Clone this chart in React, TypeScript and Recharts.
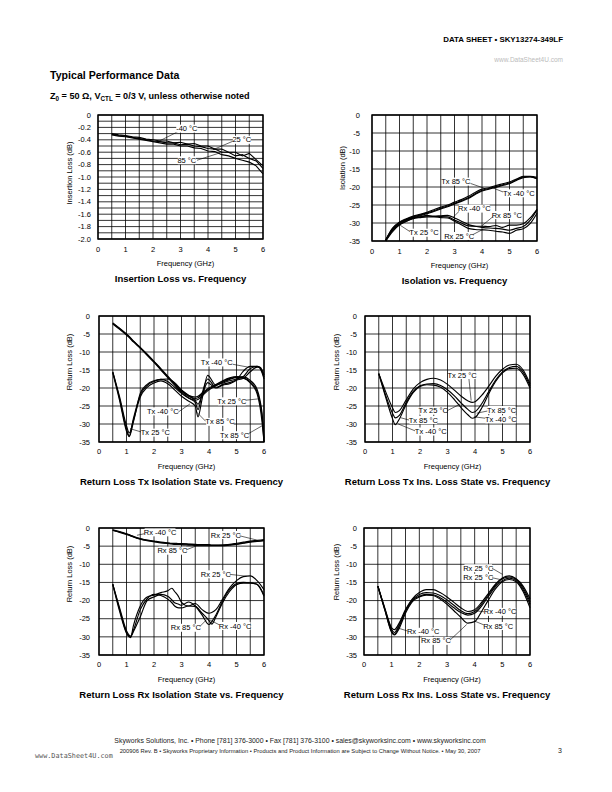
import React from "react";
import {
  LineChart,
  Line,
  XAxis,
  YAxis,
  CartesianGrid,
  ReferenceArea,
  ReferenceLine,
  ReferenceDot,
} from "recharts";

const FONT = "'Liberation Sans', Arial, Helvetica, sans-serif";

// shared axes
const freqTicks = [0, 0.5, 1, 1.5, 2, 2.5, 3, 3.5, 4, 4.5, 5, 5.5, 6];
const dbTicks = [0, -5, -10, -15, -20, -25, -30, -35];
const ilTicks = [
  0, -0.1, -0.2, -0.3, -0.4, -0.5, -0.6, -0.7, -0.8, -0.9, -1.0, -1.1, -1.2,
  -1.3, -1.4, -1.5, -1.6, -1.7, -1.8, -1.9, -2.0,
];

// Insertion loss vs frequency
const ilFreq = [
  0.5, 0.75, 1, 1.25, 1.5, 1.75, 2, 2.25, 2.5, 2.75, 3, 3.25, 3.5, 3.75, 4,
  4.25, 4.5, 4.75, 5, 5.25, 5.5, 5.75, 6,
];
const ilM40 = [
  -0.3, -0.32, -0.33, -0.35, -0.36, -0.39, -0.4, -0.42, -0.42, -0.45, -0.44,
  -0.47, -0.46, -0.5, -0.5, -0.55, -0.55, -0.6, -0.6, -0.66, -0.62, -0.72,
  -0.82,
];
const il25 = [
  -0.31, -0.33, -0.34, -0.36, -0.38, -0.4, -0.42, -0.43, -0.45, -0.45, -0.48,
  -0.47, -0.5, -0.51, -0.54, -0.55, -0.6, -0.6, -0.66, -0.64, -0.7, -0.74,
  -0.86,
];
const il85 = [
  -0.32, -0.34, -0.35, -0.37, -0.39, -0.41, -0.43, -0.45, -0.47, -0.47, -0.5,
  -0.5, -0.53, -0.54, -0.58, -0.59, -0.64, -0.66, -0.7, -0.73, -0.76, -0.82,
  -0.95,
];

// Isolation vs frequency
const isoFreq = ilFreq;
const isoTx85 = [
  -34.8, -31.8, -30.0, -29.0, -28.3, -27.8, -27.2, -26.6, -25.9, -25.3, -24.5,
  -23.8, -23.0, -21.9, -20.9, -20.4, -19.9, -19.4, -18.9, -18.0, -17.2, -17.1,
  -17.6,
];
const isoTxM40 = [
  -34.6, -31.4, -29.7, -28.8, -28.1, -27.6, -27.0, -26.3, -25.6, -25.0, -24.2,
  -23.5, -22.6, -21.5, -20.6, -20.2, -19.6, -19.1, -18.6, -17.8, -17.0, -17.0,
  -17.3,
];
const isoTx25 = [
  -35.0, -32.4, -30.5, -29.5, -28.6, -28.0, -27.4, -26.8, -26.1, -25.5, -24.7,
  -24.0, -23.2, -22.1, -21.1, -20.6, -20.1, -19.6, -19.1, -18.2, -17.4, -17.2,
  -17.7,
];
const isoRxM40 = [
  -34.8, -31.5, -30.0, -29.0, -28.5, -28.3, -28.0, -28.1, -28.0, -27.9, -28.6,
  -29.5, -30.4, -30.9, -31.2, -31.4, -31.5, -31.7, -32.0, -31.5, -31.0, -29.3,
  -26.3,
];
const isoRx85 = [
  -34.9, -31.8, -30.3, -29.2, -28.6, -28.3, -27.9, -28.2, -28.2, -28.3, -29.2,
  -30.0, -30.8, -30.9, -30.9, -31.0, -30.7, -31.2, -30.6, -30.6, -30.2, -28.6,
  -26.2,
];
const isoRx25 = [
  -35.0, -32.0, -30.5, -29.5, -28.8, -28.5, -28.3, -28.3, -28.5, -28.6, -29.5,
  -30.5, -31.5, -31.8, -31.9, -32.0, -32.3, -32.5, -32.9, -32.0, -31.6, -30.2,
  -27.3,
];

// Return loss, Tx isolation state
const txIsoFreq = [
  0.5, 0.75, 1, 1.1, 1.25, 1.5, 1.75, 2, 2.25, 2.5, 2.75, 3, 3.25, 3.5, 3.6,
  3.75, 3.95, 4.25, 4.5, 4.75, 5, 5.25, 5.5, 5.75, 5.85, 5.93, 6,
];
const txIsoArc85 = [
  -2.0, -3.5, -5.1, -5.8, -7.0, -8.8, -10.7, -12.7, -14.8, -16.9, -19.0, -20.9,
  -22.3, -22.9, -22.7, -21.8, -20.5, -19.2, -18.2, -17.4, -17.0, -17.2, -18.3,
  -21.0, -24.0, -28.0, -35.0,
];
const txIsoArc25 = [
  -2.2, -3.7, -5.3, -6.0, -7.2, -9.0, -10.9, -12.9, -15.0, -17.1, -19.2, -21.2,
  -22.7, -23.4, -23.2, -22.2, -20.8, -19.4, -18.4, -17.6, -17.1, -17.3, -18.6,
  -21.6, -25.0, -29.5, -35.0,
];
const txIsoArcM40 = [
  -1.9, -3.4, -5.0, -5.7, -6.9, -8.7, -10.6, -12.6, -14.6, -16.7, -18.8, -20.7,
  -22.0, -22.5, -22.3, -21.4, -20.2, -19.0, -18.0, -17.2, -16.8, -16.9, -17.9,
  -20.4, -23.2, -27.0, -34.0,
];
const txIso25 = [
  -15.5, -23.0, -31.5, -33.3, -28.5, -22.0, -19.3, -18.2, -17.6, -18.2, -19.8,
  -21.5, -22.8, -24.0, -26.0, -21.5, -17.5, -19.8, -19.0, -18.5, -17.8, -17.3,
  -15.5, -14.2, -14.2, -15.0, -16.4,
];
const txIso85 = [
  -15.5, -22.5, -30.5, -32.5, -29.0, -22.5, -19.8, -18.6, -18.0, -18.8, -20.5,
  -22.3, -23.6, -25.0, -28.0, -23.0, -16.5, -19.2, -18.6, -18.0, -17.5, -16.8,
  -14.6, -14.0, -14.3, -15.4, -17.0,
];
const txIsoM40 = [
  -15.8, -23.5, -32.0, -33.5, -29.5, -21.5, -19.0, -18.0, -17.6, -17.5, -18.5,
  -20.5, -22.0, -23.5, -24.5, -22.0, -18.5, -20.0, -19.2, -18.8, -17.8, -15.3,
  -14.0, -14.0, -14.5, -15.8, -17.5,
];

// Return loss, Tx insertion loss state
const txInsFreq = [
  0.5, 0.75, 1, 1.1, 1.25, 1.5, 1.75, 2, 2.25, 2.5, 2.75, 3, 3.25, 3.5, 3.75,
  3.9, 4, 4.25, 4.5, 4.75, 5, 5.25, 5.5, 5.75, 6,
];
const txIns25 = [
  -16, -21, -25.5, -26.8, -26.3, -23.3, -20.3, -18.5, -17.6, -17.3, -17.8, -19.0,
  -20.6, -22.3, -23.6, -24.0, -23.8, -22.0, -19.5, -16.8, -14.8, -13.6, -13.4,
  -15.0, -18.8,
];
const txIns85 = [
  -16, -22, -27, -28.3, -27.6, -24, -21, -19.4, -18.9, -18.8, -19.3, -20.5,
  -22.2, -24.2, -26.0, -26.8, -26.6, -24.3, -21.0, -17.8, -15.5, -14.3, -14.0,
  -15.6, -19.4,
];
const txInsM40 = [
  -16, -22.5, -28.5, -30.2, -28.6, -24.5, -21.3, -19.6, -19.1, -19.2, -19.8,
  -21.2, -23.2, -25.5, -27.5, -28.4, -28.2, -25.5, -21.6, -18.2, -15.8, -14.6,
  -14.5, -16.2, -20.0,
];

// Return loss, Rx isolation state
const rxIsoFreq = [
  0.5, 0.75, 1, 1.15, 1.25, 1.5, 1.75, 2, 2.25, 2.5, 2.65, 2.75, 2.9, 3, 3.25,
  3.5, 3.75, 4, 4.1, 4.25, 4.5, 4.75, 5, 5.25, 5.5, 5.75, 6,
];
const rxIsoUpM40 = [
  -0.5, -1.0, -1.6, -2.0, -2.3, -2.9, -3.3, -3.6, -3.9, -4.1, -4.2, -4.2, -4.3,
  -4.3, -4.4, -4.5, -4.6, -4.6, -4.7, -4.7, -4.7, -4.6, -4.4, -4.1, -3.8, -3.6,
  -3.4,
];
const rxIsoUp25 = [
  -0.6, -1.1, -1.7, -2.1, -2.4, -3.0, -3.4, -3.7, -4.0, -4.2, -4.3, -4.3, -4.4,
  -4.4, -4.5, -4.6, -4.7, -4.7, -4.8, -4.8, -4.7, -4.5, -4.2, -3.9, -3.6, -3.4,
  -3.2,
];
const rxIsoUp85 = [
  -0.7, -1.2, -1.8, -2.2, -2.5, -3.1, -3.5, -3.8, -4.1, -4.3, -4.4, -4.5, -4.5,
  -4.6, -4.7, -4.8, -4.9, -4.9, -4.9, -4.9, -4.9, -4.7, -4.5, -4.2, -3.9, -3.7,
  -3.5,
];
const rxIsoM40 = [
  -15.5, -22.0, -28.3, -29.8, -28.2, -22.5, -19.5, -18.3, -18.6, -19.6, -20.6,
  -21.5, -22.0, -22.0, -21.5, -21.6, -23.5, -25.5, -26.5, -24.5, -20.5, -17.5,
  -15.6, -15.2, -15.2, -15.5, -18.5,
];
const rxIso25 = [
  -15.5, -23.0, -29.0, -30.2, -27.0, -21.5, -19.0, -18.5, -17.8, -17.3, -16.6,
  -17.5, -19.0, -20.5, -21.5, -20.8, -22.5, -23.5, -23.3, -22.5, -19.5, -16.5,
  -14.5, -13.4, -13.2, -14.5, -17.0,
];
const rxIso85 = [
  -15.5, -22.5, -28.8, -30.0, -28.6, -24.5, -20.0, -19.0, -18.3, -18.8, -19.8,
  -20.6, -21.0, -21.3, -20.4, -21.5, -24.0, -26.6, -25.8, -24.0, -20.0, -17.0,
  -15.3, -15.0, -15.1, -15.6, -18.8,
];

// Return loss, Rx insertion loss state
const rxInsFreq = [
  0.5, 0.75, 1, 1.1, 1.25, 1.5, 1.75, 2, 2.25, 2.5, 2.75, 3, 3.25, 3.5, 3.75, 4,
  4.25, 4.5, 4.75, 5, 5.25, 5.5, 5.75, 6,
];
const rxIns25a = [
  -16, -22, -27.5, -28, -26.5, -22.5, -19.5, -17.8, -17.0, -17.0, -17.8, -19.0,
  -20.5, -22.0, -23.0, -22.5, -20.5, -18.0, -15.5, -13.8, -13.2, -14.0, -16.0,
  -19.5,
];
const rxIns25b = [
  -16, -22.2, -28, -28.8, -27, -22.8, -19.8, -18.3, -17.8, -17.9, -18.6, -19.8,
  -21.3, -22.8, -23.6, -23.0, -21.0, -18.4, -15.8, -14.0, -13.5, -14.2, -16.5,
  -20.3,
];
const rxInsM40 = [
  -16, -22.5, -28.5, -29.3, -27.5, -23, -20, -18.8, -18.3, -18.4, -19.2, -20.5,
  -22, -23.3, -24, -23.5, -21.5, -18.8, -16.2, -14.5, -13.8, -14.5, -17, -21,
];
const rxIns85 = [
  -16, -22.5, -28.8, -29.5, -28, -23.5, -20.3, -19, -18.5, -18.6, -19.6, -21,
  -22.8, -24.6, -26.2, -25.8, -23, -19.8, -16.8, -14.8, -14.2, -14.8, -17.5, -22,
];

// callouts: text centre and leader line, in data units
type Note = { text: string; x: number; y: number; from: number[]; to: number[] };

const ilNotes: Note[] = [
  { text: "-40 °C", x: 3.23, y: -0.22, from: [2.95, -0.26], to: [2.18, -0.43] },
  { text: "25 °C", x: 5.23, y: -0.4, from: [4.92, -0.42], to: [4.18, -0.56] },
  { text: "85 °C", x: 3.23, y: -0.73, from: [3.6, -0.73], to: [4.44, -0.61] },
];
const isoNotes: Note[] = [
  { text: "Tx 85 °C", x: 3.05, y: -18.5, from: [3.58, -19.0], to: [4.1, -20.4] },
  { text: "Tx -40 °C", x: 5.34, y: -21.75, from: [4.77, -21.4], to: [4.35, -20.1] },
  { text: "Rx -40 °C", x: 3.72, y: -26.0, from: [3.2, -26.5], to: [2.95, -28.4] },
  { text: "Rx 85 °C", x: 4.9, y: -27.8, from: [4.42, -28.1], to: [3.99, -30.8] },
  { text: "Tx 25 °C", x: 1.89, y: -32.7, from: [1.38, -32.4], to: [1.02, -30.6] },
  { text: "Rx 25 °C", x: 3.17, y: -33.6, from: [3.65, -33.3], to: [4.05, -31.7] },
];
const txIsoNotes: Note[] = [
  { text: "Tx -40 °C", x: 4.28, y: -12.9, from: [4.86, -13.4], to: [5.49, -14.3] },
  { text: "Tx 25 °C", x: 4.83, y: -23.7, from: [5.33, -23.4], to: [5.82, -23.0] },
  { text: "Tx -40 °C", x: 2.32, y: -26.5, from: [2.88, -26.7], to: [3.31, -24.4] },
  { text: "Tx 85 °C", x: 4.4, y: -29.4, from: [3.88, -29.25], to: [3.55, -26.7] },
  { text: "Tx 25 °C", x: 2.05, y: -32.4, from: [1.53, -32.2], to: [1.13, -31.3] },
  { text: "Tx 85 °C", x: 4.93, y: -33.1, from: [5.43, -32.7], to: [5.93, -30.5] },
];
const txInsNotes: Note[] = [
  { text: "Tx 25 °C", x: 3.53, y: -16.4, from: [3.78, -17.5], to: [3.86, -23.5] },
  { text: "Tx 25 °C", x: 2.48, y: -26.3, from: [2.99, -26.3], to: [3.45, -24.5] },
  { text: "Tx 85 °C", x: 4.97, y: -26.1, from: [4.45, -26.4], to: [4.06, -27.0] },
  { text: "Tx -40 °C", x: 4.94, y: -28.7, from: [4.38, -28.4], to: [3.96, -28.0] },
  { text: "Tx 85 °C", x: 2.12, y: -28.9, from: [1.6, -28.9], to: [1.27, -28.2] },
  { text: "Tx -40 °C", x: 2.39, y: -32.1, from: [1.82, -31.9], to: [1.21, -30.0] },
];
const rxIsoNotes: Note[] = [
  { text: "Rx -40 °C", x: 2.22, y: -1.2, from: [1.73, -1.46], to: [1.38, -2.0] },
  { text: "Rx 25 °C", x: 4.61, y: -1.93, from: [5.1, -2.12], to: [5.73, -3.3] },
  { text: "Rx 85 °C", x: 2.67, y: -6.25, from: [3.16, -6.06], to: [3.55, -4.9] },
  { text: "Rx 25 °C", x: 4.25, y: -12.76, from: [4.74, -12.76], to: [5.37, -13.3] },
  { text: "Rx 85 °C", x: 3.16, y: -27.5, from: [3.66, -27.2], to: [3.92, -25.2] },
  { text: "Rx -40 °C", x: 4.95, y: -27.0, from: [4.38, -26.7], to: [4.04, -25.4] },
];
const rxInsNotes: Note[] = [
  { text: "Rx 25 °C", x: 4.13, y: -11.1, from: [4.63, -11.1], to: [5.01, -12.8] },
  { text: "Rx 25 °C", x: 4.13, y: -13.7, from: [4.63, -13.7], to: [4.98, -14.3] },
  { text: "Rx -40 °C", x: 4.92, y: -23.1, from: [4.35, -23.1], to: [4.02, -22.8] },
  { text: "Rx 85 °C", x: 4.85, y: -27.0, from: [4.33, -26.7], to: [3.98, -25.6] },
  { text: "Rx -40 °C", x: 2.14, y: -28.6, from: [1.58, -28.4], to: [1.24, -27.6] },
  { text: "Rx 85 °C", x: 2.6, y: -31.1, from: [3.11, -30.9], to: [3.71, -26.6] },
];

const fmtFreq = (v: number) => (Number.isInteger(v) ? String(v) : "");
const fmtDb = (v: number) => String(v);
const fmtIl = (v: number) => {
  const n = Math.round(-v * 10);
  if (n % 2) return "";
  return n === 0 ? "0" : v.toFixed(1);
};

const noteShape = (text: string) => (p: any) => {
  const w = text.length * 3.2 + 2;
  return (
    <g>
      <rect x={p.cx - w / 2} y={p.cy - 4} width={w} height={8} fill="#fff" />
      <text
        x={p.cx}
        y={p.cy}
        dy="0.35em"
        textAnchor="middle"
        fontSize={7.5}
        fontFamily={FONT}
        fill="#000"
      >
        {text}
      </text>
    </g>
  );
};

type Box = { x: number; y: number; w: number; h: number };

const Panel = ({
  box,
  freq,
  series,
  yTicks,
  yFmt,
  yGap,
  xGap,
  notes,
  curve,
}: {
  box: Box;
  freq: number[];
  series: number[][];
  yTicks: number[];
  yFmt: (v: number) => string;
  yGap: number;
  xGap: number;
  notes: Note[];
  curve: "linear" | "monotone";
}) => {
  const yMin = yTicks[yTicks.length - 1];
  const rows = freq.map((f, i) => {
    const r: any = { f };
    series.forEach((s, k) => (r["s" + k] = s[i]));
    return r;
  });
  const tick = { fontSize: 7.5, fill: "#000", fontFamily: FONT };
  return (
    <div style={{ position: "absolute", left: box.x - 45, top: box.y - 6 }}>
      <LineChart
        width={45 + box.w + 8}
        height={6 + box.h + 22}
        data={rows}
        margin={{ top: 6, right: 8, bottom: 0, left: 0 }}
      >
        <CartesianGrid stroke="#000" strokeWidth={0.8} />
        <XAxis
          type="number"
          dataKey="f"
          domain={[0, 6]}
          ticks={freqTicks}
          interval={0}
          tickFormatter={fmtFreq}
          tickLine={false}
          axisLine={false}
          tickSize={0}
          tickMargin={xGap}
          height={22}
          tick={tick}
        />
        <YAxis
          type="number"
          domain={[yMin, 0]}
          ticks={yTicks}
          interval={0}
          tickFormatter={yFmt}
          tickLine={false}
          axisLine={false}
          tickSize={0}
          tickMargin={yGap}
          width={45}
          tick={tick}
        />
        <ReferenceArea
          x1={0}
          x2={6}
          y1={yMin}
          y2={0}
          fill="none"
          fillOpacity={0}
          stroke="#000"
          strokeWidth={1.4}
          ifOverflow="visible"
        />
        {series.map((_, k) => (
          <Line
            key={k}
            dataKey={"s" + k}
            type={curve}
            stroke="#000"
            strokeWidth={1.15}
            dot={false}
            activeDot={false}
            isAnimationActive={false}
          />
        ))}
        {notes.map((n, i) => (
          <ReferenceLine
            key={"l" + i}
            segment={[
              { x: n.from[0], y: n.from[1] },
              { x: n.to[0], y: n.to[1] },
            ]}
            stroke="#000"
            strokeWidth={0.6}
            ifOverflow="visible"
          />
        ))}
        {notes.map((n, i) => (
          <ReferenceDot
            key={"d" + i}
            x={n.x}
            y={n.y}
            r={0}
            shape={noteShape(n.text)}
            ifOverflow="visible"
          />
        ))}
      </LineChart>
    </div>
  );
};

const boxes: Box[] = [
  { x: 98, y: 115, w: 165, h: 124 },
  { x: 372, y: 115, w: 165, h: 126 },
  { x: 99, y: 316, w: 165, h: 126 },
  { x: 365, y: 316, w: 165, h: 126 },
  { x: 99, y: 528, w: 165, h: 127 },
  { x: 364, y: 528, w: 166, h: 127 },
];

const yTitles = [
  { text: "Insertion Loss (dB)", x: 69, y: 173 },
  { text: "Isolation (dB)", x: 342, y: 168 },
  { text: "Return Loss (dB)", x: 69, y: 362 },
  { text: "Return Loss (dB)", x: 336, y: 362 },
  { text: "Return Loss (dB)", x: 69, y: 574 },
  { text: "Return Loss (dB)", x: 336, y: 572 },
];

const titles = [
  "Insertion Loss vs. Frequency",
  "Isolation vs. Frequency",
  "Return Loss Tx Isolation State vs. Frequency",
  "Return Loss Tx Ins. Loss State vs. Frequency",
  "Return Loss Rx Isolation State vs. Frequency",
  "Return Loss Rx Ins. Loss State vs. Frequency",
];

const PageText = () => (
  <svg
    width={612}
    height={792}
    style={{ position: "absolute", left: 0, top: 0 }}
    fontFamily={FONT}
  >
    <text x={563} y={42} textAnchor="end" fontSize={7.9} fontWeight="bold">
      DATA SHEET • SKY13274-349LF
    </text>
    <text x={563} y={62} textAnchor="end" fontSize={6.5} fill="#bbb">
      www.DataSheet4U.com
    </text>
    <text x={50} y={79} fontSize={10.6} fontWeight="bold">
      Typical Performance Data
    </text>
    <text x={50} y={99} fontSize={9.1} fontWeight="bold">
      Z
      <tspan fontSize={6.3} dy={2}>
        0
      </tspan>
      <tspan dy={-2}> = 50 Ω, V</tspan>
      <tspan fontSize={6.3} dy={2}>
        CTL
      </tspan>
      <tspan dy={-2}> = 0/3 V, unless otherwise noted</tspan>
    </text>
    {boxes.map((b, i) => (
      <g key={i}>
        <text
          transform={`translate(${yTitles[i].x},${yTitles[i].y}) rotate(-90)`}
          textAnchor="middle"
          dy="0.35em"
          fontSize={7.5}
        >
          {yTitles[i].text}
        </text>
        <text
          x={b.x + b.w / 2 + 5}
          y={b.y + b.h + 24}
          dy="0.35em"
          textAnchor="middle"
          fontSize={7.5}
        >
          Frequency (GHz)
        </text>
        <text
          x={b.x + b.w / 2}
          y={b.y + b.h + 40}
          dy="0.35em"
          textAnchor="middle"
          fontSize={9.5}
          fontWeight="bold"
        >
          {titles[i]}
        </text>
      </g>
    ))}
    <text x={300} y={743} textAnchor="middle" fontSize={6.9} fill="#222">
      Skyworks Solutions, Inc. • Phone [781] 376-3000 • Fax [781] 376-3100 •
      sales@skyworksinc.com • www.skyworksinc.com
    </text>
    <text x={300} y={753} textAnchor="middle" fontSize={5.8} fill="#222">
      200906 Rev. B • Skyworks Proprietary Information • Products and Product
      Information are Subject to Change Without Notice. • May 30, 2007
    </text>
    <text x={558} y={753} fontSize={7} fill="#222">
      3
    </text>
    <text
      x={35}
      y={758}
      fontSize={6.8}
      fill="#555"
      fontFamily="'DejaVu Sans Mono', 'Liberation Mono', monospace"
    >
      www.DataSheet4U.com
    </text>
  </svg>
);

export default function App() {
  return (
    <div
      style={{
        position: "absolute",
        left: 0,
        top: 0,
        width: 612,
        height: 792,
        background: "#fff",
        fontFamily: FONT,
      }}
    >
      <PageText />
      <Panel
        box={boxes[0]}
        freq={ilFreq}
        series={[ilM40, il25, il85]}
        yTicks={ilTicks}
        yFmt={fmtIl}
        yGap={7}
        xGap={8}
        notes={ilNotes}
        curve="linear"
      />
      <Panel
        box={boxes[1]}
        freq={isoFreq}
        series={[isoTx85, isoTxM40, isoTx25, isoRxM40, isoRx85, isoRx25]}
        yTicks={dbTicks}
        yFmt={fmtDb}
        yGap={12}
        xGap={8}
        notes={isoNotes}
        curve="monotone"
      />
      <Panel
        box={boxes[2]}
        freq={txIsoFreq}
        series={[txIsoArc85, txIsoArc25, txIsoArcM40, txIso25, txIso85, txIsoM40]}
        yTicks={dbTicks}
        yFmt={fmtDb}
        yGap={9}
        xGap={7}
        notes={txIsoNotes}
        curve="monotone"
      />
      <Panel
        box={boxes[3]}
        freq={txInsFreq}
        series={[txIns25, txIns85, txInsM40]}
        yTicks={dbTicks}
        yFmt={fmtDb}
        yGap={8}
        xGap={7}
        notes={txInsNotes}
        curve="monotone"
      />
      <Panel
        box={boxes[4]}
        freq={rxIsoFreq}
        series={[rxIsoUpM40, rxIsoUp25, rxIsoUp85, rxIsoM40, rxIso25, rxIso85]}
        yTicks={dbTicks}
        yFmt={fmtDb}
        yGap={9}
        xGap={7}
        notes={rxIsoNotes}
        curve="monotone"
      />
      <Panel
        box={boxes[5]}
        freq={rxInsFreq}
        series={[rxIns25a, rxIns25b, rxInsM40, rxIns85]}
        yTicks={dbTicks}
        yFmt={fmtDb}
        yGap={7}
        xGap={7}
        notes={rxInsNotes}
        curve="monotone"
      />
    </div>
  );
}
